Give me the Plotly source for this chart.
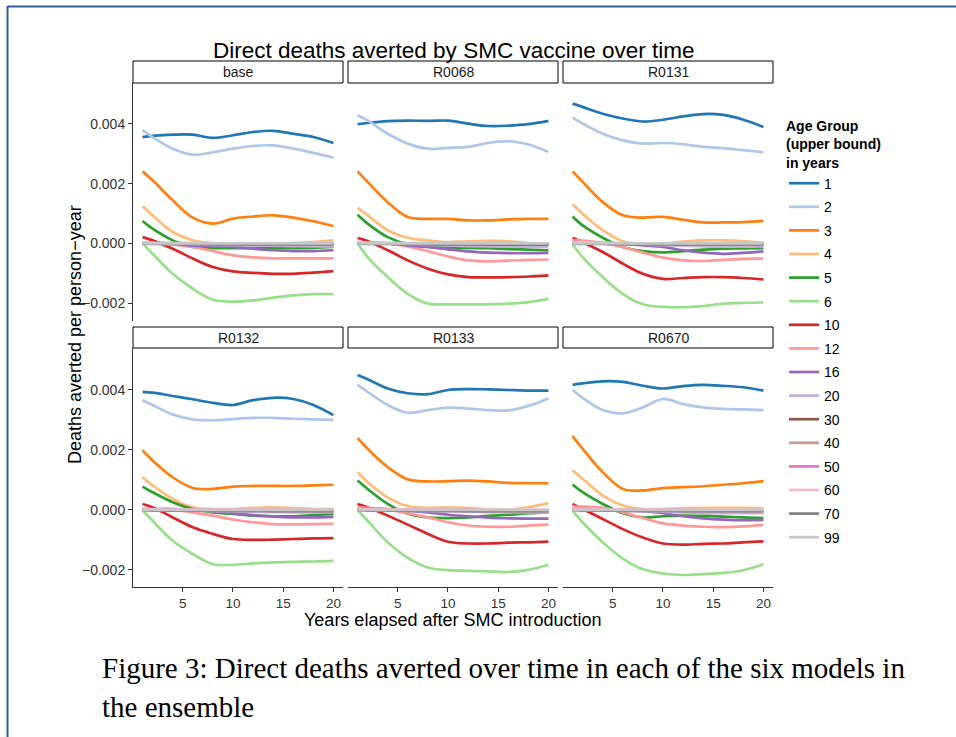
import plotly.graph_objects as go
import numpy as np

# ---------------- data ----------------
YEARS = [1, 2, 4, 6, 8, 10, 12, 14, 16, 18, 20]
AGE_GROUPS = ["1", "2", "3", "4", "5", "6", "10", "12", "16", "20",
              "30", "40", "50", "60", "70", "99"]
COLORS = ["#1f77b4", "#aec7e8", "#ff7f0e", "#ffbb78", "#2ca02c", "#98df8a",
          "#d62728", "#ff9896", "#9467bd", "#c5b0d5", "#8c564b", "#c49c94",
          "#e377c2", "#f7b6d2", "#7f7f7f", "#c7c7c7"]
MODELS = ["base", "R0068", "R0131", "R0132", "R0133", "R0670"]
Y_TICKS = [-0.002, 0.0, 0.002, 0.004]
X_TICKS = [5, 10, 15, 20]

# deaths averted per person-year, in units of 0.001 (one row per age group)
BASE = [
    [3.56, 3.60, 3.64, 3.64, 3.53, 3.62, 3.73, 3.77, 3.67, 3.56, 3.36],
    [3.79, 3.56, 3.17, 2.97, 3.05, 3.17, 3.26, 3.28, 3.17, 3.03, 2.87],
    [2.41, 2.11, 1.44, 0.86, 0.66, 0.83, 0.90, 0.94, 0.86, 0.74, 0.58],
    [1.24, 0.94, 0.38, 0.10, 0.01, -0.01, -0.01, 0.00, 0.01, 0.04, 0.10],
    [0.75, 0.49, 0.10, -0.12, -0.16, -0.16, -0.16, -0.17, -0.16, -0.15, -0.12],
    [0.00, -0.35, -1.02, -1.52, -1.89, -1.95, -1.91, -1.82, -1.74, -1.70, -1.70],
    [0.21, 0.10, -0.18, -0.51, -0.79, -0.94, -0.99, -1.02, -1.02, -0.98, -0.93],
    [0.00, 0.00, -0.04, -0.12, -0.26, -0.40, -0.47, -0.50, -0.50, -0.50, -0.50],
    [0.01, 0.01, 0.00, -0.08, -0.10, -0.12, -0.18, -0.23, -0.26, -0.26, -0.23],
    [0.00, 0.00, -0.01, -0.03, -0.05, -0.06, -0.07, -0.08, -0.09, -0.10, -0.10],
    [0.02, 0.01, 0.00, -0.01, -0.02, -0.02, -0.03, -0.03, -0.03, -0.03, -0.03],
    [0.01, 0.01, 0.00, 0.00, -0.01, -0.01, -0.01, -0.02, -0.02, -0.02, -0.02],
    [0.01, 0.01, 0.01, 0.00, 0.00, 0.00, 0.00, -0.01, -0.01, -0.01, -0.01],
    [0.03, 0.02, 0.01, 0.01, 0.00, 0.00, 0.00, 0.00, 0.00, 0.00, 0.00],
    [-0.01, -0.02, -0.02, -0.03, -0.03, -0.03, -0.03, -0.03, -0.03, -0.03, -0.03],
    [0.00, 0.00, 0.00, 0.00, 0.00, 0.00, 0.00, 0.00, 0.00, 0.00, 0.00],
]
R0068 = [
    [3.99, 4.03, 4.09, 4.11, 4.10, 4.11, 4.01, 3.93, 3.94, 3.99, 4.10],
    [4.29, 4.12, 3.67, 3.34, 3.17, 3.20, 3.23, 3.36, 3.42, 3.31, 3.06],
    [2.41, 2.06, 1.38, 0.88, 0.82, 0.82, 0.77, 0.77, 0.80, 0.82, 0.82],
    [1.19, 0.94, 0.44, 0.19, 0.10, 0.04, 0.07, 0.08, 0.07, 0.01, 0.00],
    [0.96, 0.66, 0.21, -0.03, -0.12, -0.15, -0.15, -0.16, -0.19, -0.21, -0.23],
    [0.00, -0.46, -1.13, -1.69, -2.02, -2.04, -2.04, -2.04, -2.02, -1.97, -1.86],
    [0.18, 0.08, -0.23, -0.57, -0.85, -1.04, -1.13, -1.14, -1.13, -1.11, -1.07],
    [0.04, 0.03, 0.00, -0.10, -0.26, -0.44, -0.57, -0.60, -0.58, -0.55, -0.54],
    [0.01, 0.01, 0.00, -0.07, -0.12, -0.20, -0.27, -0.31, -0.33, -0.33, -0.32],
    [0.01, 0.00, -0.01, -0.03, -0.05, -0.07, -0.09, -0.10, -0.11, -0.12, -0.12],
    [0.02, 0.01, 0.00, -0.01, -0.02, -0.03, -0.03, -0.04, -0.04, -0.04, -0.04],
    [0.01, 0.01, 0.00, 0.00, -0.01, -0.01, -0.02, -0.02, -0.02, -0.02, -0.02],
    [0.01, 0.01, 0.01, 0.00, 0.00, 0.00, -0.01, -0.01, -0.01, -0.01, -0.01],
    [0.03, 0.02, 0.01, 0.01, 0.01, 0.00, 0.00, 0.00, 0.00, 0.00, 0.00],
    [-0.01, -0.02, -0.02, -0.03, -0.03, -0.03, -0.03, -0.03, -0.03, -0.03, -0.03],
    [0.00, 0.00, 0.00, 0.00, 0.00, 0.00, 0.00, 0.00, 0.00, 0.00, 0.00],
]
R0131 = [
    [4.68, 4.57, 4.34, 4.18, 4.08, 4.14, 4.25, 4.33, 4.30, 4.14, 3.90],
    [4.21, 4.01, 3.67, 3.45, 3.34, 3.36, 3.32, 3.23, 3.19, 3.12, 3.05],
    [2.41, 2.06, 1.38, 0.94, 0.86, 0.89, 0.79, 0.70, 0.70, 0.71, 0.75],
    [1.31, 0.99, 0.44, 0.07, -0.03, -0.01, 0.06, 0.10, 0.10, 0.07, 0.02],
    [0.90, 0.60, 0.19, -0.12, -0.26, -0.30, -0.26, -0.21, -0.18, -0.17, -0.16],
    [-0.03, -0.46, -1.13, -1.69, -2.04, -2.13, -2.14, -2.10, -2.02, -1.99, -1.98],
    [0.18, 0.04, -0.29, -0.68, -1.02, -1.19, -1.16, -1.13, -1.13, -1.16, -1.21],
    [0.10, 0.09, 0.01, -0.12, -0.31, -0.48, -0.57, -0.59, -0.55, -0.52, -0.50],
    [0.04, 0.03, 0.01, -0.02, -0.07, -0.12, -0.23, -0.31, -0.35, -0.32, -0.27],
    [0.02, 0.01, 0.00, -0.02, -0.04, -0.06, -0.08, -0.10, -0.11, -0.11, -0.10],
    [0.02, 0.01, 0.00, -0.01, -0.02, -0.02, -0.03, -0.03, -0.03, -0.03, -0.03],
    [0.01, 0.01, 0.00, 0.00, -0.01, -0.01, -0.01, -0.02, -0.02, -0.02, -0.02],
    [0.02, 0.01, 0.01, 0.00, 0.00, 0.00, 0.00, -0.01, -0.01, -0.01, -0.01],
    [0.04, 0.03, 0.02, 0.01, 0.00, 0.00, 0.00, 0.00, 0.00, 0.00, 0.00],
    [-0.01, -0.02, -0.02, -0.03, -0.03, -0.03, -0.03, -0.03, -0.03, -0.03, -0.03],
    [0.00, 0.00, 0.00, 0.00, 0.00, 0.00, 0.00, 0.00, 0.00, 0.00, 0.00],
]
R0132 = [
    [3.94, 3.91, 3.80, 3.69, 3.57, 3.50, 3.66, 3.74, 3.70, 3.50, 3.16],
    [3.66, 3.50, 3.18, 3.02, 2.99, 3.03, 3.07, 3.07, 3.04, 3.02, 3.00],
    [1.99, 1.65, 1.09, 0.73, 0.70, 0.78, 0.80, 0.80, 0.80, 0.82, 0.84],
    [1.09, 0.82, 0.37, 0.09, 0.03, 0.03, 0.07, 0.09, 0.06, 0.03, 0.03],
    [0.78, 0.59, 0.26, 0.03, -0.08, -0.13, -0.19, -0.21, -0.21, -0.17, -0.13],
    [-0.02, -0.36, -1.03, -1.47, -1.81, -1.83, -1.78, -1.75, -1.73, -1.72, -1.70],
    [0.20, 0.09, -0.25, -0.58, -0.80, -0.97, -1.00, -0.99, -0.97, -0.95, -0.94],
    [0.03, 0.03, 0.00, -0.08, -0.19, -0.32, -0.41, -0.47, -0.48, -0.47, -0.46],
    [0.03, 0.03, 0.03, 0.00, -0.04, -0.11, -0.17, -0.22, -0.25, -0.25, -0.23],
    [0.01, 0.01, 0.00, -0.02, -0.04, -0.05, -0.06, -0.07, -0.08, -0.08, -0.08],
    [0.02, 0.01, 0.00, -0.01, -0.01, -0.02, -0.02, -0.03, -0.03, -0.03, -0.03],
    [0.01, 0.01, 0.00, 0.00, -0.01, -0.01, -0.01, -0.01, -0.02, -0.02, -0.02],
    [0.01, 0.01, 0.01, 0.00, 0.00, 0.00, 0.00, 0.00, -0.01, -0.01, -0.01],
    [0.03, 0.02, 0.01, 0.01, 0.00, 0.00, 0.00, 0.00, 0.00, 0.00, 0.00],
    [-0.01, -0.02, -0.02, -0.02, -0.03, -0.03, -0.03, -0.03, -0.03, -0.03, -0.03],
    [0.00, 0.00, 0.00, 0.00, 0.00, 0.00, 0.00, 0.00, 0.00, 0.00, 0.00],
]
R0133 = [
    [4.50, 4.36, 4.05, 3.89, 3.86, 4.00, 4.03, 4.02, 4.00, 3.98, 3.98],
    [4.17, 3.94, 3.50, 3.24, 3.33, 3.41, 3.38, 3.33, 3.32, 3.47, 3.72],
    [2.40, 2.04, 1.43, 1.02, 0.95, 0.96, 0.98, 0.95, 0.90, 0.89, 0.89],
    [1.26, 0.93, 0.42, 0.13, 0.07, 0.09, 0.07, 0.01, 0.00, 0.09, 0.22],
    [0.98, 0.70, 0.20, -0.13, -0.25, -0.27, -0.25, -0.20, -0.16, -0.11, -0.08],
    [0.00, -0.36, -1.08, -1.60, -1.92, -2.01, -2.03, -2.05, -2.07, -2.00, -1.83],
    [0.20, 0.09, -0.19, -0.49, -0.80, -1.06, -1.12, -1.12, -1.09, -1.08, -1.06],
    [0.09, 0.07, 0.01, -0.11, -0.25, -0.41, -0.52, -0.56, -0.56, -0.52, -0.49],
    [0.03, 0.03, 0.03, -0.02, -0.08, -0.16, -0.21, -0.26, -0.28, -0.29, -0.29],
    [0.01, 0.01, 0.00, -0.02, -0.04, -0.05, -0.06, -0.07, -0.08, -0.08, -0.08],
    [0.02, 0.01, 0.00, -0.01, -0.02, -0.02, -0.03, -0.03, -0.03, -0.03, -0.03],
    [0.01, 0.01, 0.00, 0.00, -0.01, -0.01, -0.01, -0.02, -0.02, -0.02, -0.02],
    [0.01, 0.01, 0.01, 0.00, 0.00, 0.00, 0.00, -0.01, -0.01, -0.01, -0.01],
    [0.03, 0.02, 0.01, 0.01, 0.00, 0.00, 0.00, 0.00, 0.00, 0.00, 0.00],
    [-0.01, -0.02, -0.02, -0.03, -0.03, -0.03, -0.03, -0.03, -0.03, -0.03, -0.03],
    [0.00, 0.00, 0.00, 0.00, 0.00, 0.00, 0.00, 0.00, 0.00, 0.00, 0.00],
]
R0670 = [
    [4.17, 4.22, 4.29, 4.27, 4.14, 4.05, 4.13, 4.17, 4.14, 4.09, 3.98],
    [4.00, 3.74, 3.33, 3.22, 3.42, 3.70, 3.53, 3.42, 3.37, 3.35, 3.33],
    [2.46, 2.04, 1.26, 0.70, 0.65, 0.73, 0.76, 0.79, 0.84, 0.89, 0.96],
    [1.32, 1.04, 0.48, 0.15, 0.03, 0.03, 0.06, 0.07, 0.07, 0.07, 0.06],
    [0.85, 0.59, 0.20, -0.11, -0.25, -0.21, -0.19, -0.20, -0.22, -0.25, -0.27],
    [-0.02, -0.41, -1.08, -1.62, -1.98, -2.12, -2.17, -2.14, -2.10, -2.01, -1.81],
    [0.20, 0.03, -0.30, -0.64, -0.92, -1.12, -1.16, -1.13, -1.12, -1.08, -1.05],
    [0.11, 0.11, 0.07, -0.08, -0.27, -0.45, -0.52, -0.56, -0.57, -0.55, -0.50],
    [0.03, 0.03, 0.01, -0.02, -0.04, -0.11, -0.21, -0.28, -0.32, -0.34, -0.33],
    [0.02, 0.01, 0.00, -0.02, -0.04, -0.06, -0.08, -0.10, -0.11, -0.11, -0.11],
    [0.02, 0.01, 0.00, -0.01, -0.02, -0.02, -0.03, -0.03, -0.03, -0.03, -0.03],
    [0.01, 0.01, 0.00, 0.00, -0.01, -0.01, -0.01, -0.02, -0.02, -0.02, -0.02],
    [0.01, 0.01, 0.01, 0.00, 0.00, 0.00, 0.00, -0.01, -0.01, -0.01, -0.01],
    [0.04, 0.03, 0.02, 0.01, 0.00, 0.00, 0.00, 0.00, 0.00, 0.00, 0.00],
    [-0.01, -0.02, -0.02, -0.03, -0.03, -0.03, -0.03, -0.03, -0.03, -0.03, -0.03],
    [0.00, 0.00, 0.00, 0.00, 0.00, 0.00, 0.00, 0.00, 0.00, 0.00, 0.00],
]
PANELS = [BASE, R0068, R0131, R0132, R0133, R0670]

TITLE = "Direct deaths averted by SMC vaccine over time"
X_TITLE = "Years elapsed after SMC introduction"
Y_TITLE = "Deaths averted per person\u2212year"
LEGEND_TITLE = "<b>Age Group<br>(upper bound)<br>in years</b>"
CAPTION_1 = "Figure 3: Direct deaths averted over time in each of the six models in"
CAPTION_2 = "the ensemble"

# ---------------- layout geometry (pixels) ----------------
W, H = 956, 737
FONT = "Liberation Sans, Arial, Helvetica, sans-serif"
SERIF = "Liberation Serif, Times New Roman, serif"
COLS = [(133, 343), (348, 558), (563, 773)]
ROWS = [(83, 321), (348, 587)]
STRIPS = [(61, 83), (327, 348)]
YRANGES = [[-0.0026, 0.00537], [-0.00257, 0.0054]]


def px(x):
    return x / W


def py(y):
    return 1 - y / H


fig = go.Figure()

for a, (age, color) in enumerate(zip(AGE_GROUPS, COLORS)):
    for i, panel in enumerate(PANELS):
        k = "" if i == 0 else str(i + 1)
        fig.add_trace(go.Scatter(
            x=YEARS,
            y=np.array(panel[a]) * 1e-3,
            mode="lines",
            line=dict(color=color, width=2.7, shape="spline", smoothing=1.0),
            name=age,
            legendgroup=age,
            showlegend=(i == 0),
            xaxis="x" + k,
            yaxis="y" + k,
            hoverinfo="skip",
        ))

layout = dict(
    width=W, height=H,
    margin=dict(l=0, r=0, t=0, b=0),
    paper_bgcolor="white",
    plot_bgcolor="white",
    font=dict(family=FONT, color="black"),
    showlegend=True,
    legend=dict(
        x=px(784), y=py(113), xanchor="left", yanchor="top",
        title=dict(text=LEGEND_TITLE, font=dict(size=14, family=FONT)),
        font=dict(size=14, family=FONT, color="black"),
        tracegroupgap=2.4,
        bgcolor="rgba(0,0,0,0)",
        itemclick=False,
    ),
)

shapes = []
annotations = []
for i, model in enumerate(MODELS):
    r, c = divmod(i, 3)
    k = "" if i == 0 else str(i + 1)
    x0, x1 = COLS[c]
    y0, y1 = ROWS[r]
    bottom = (r == 1)
    left = (c == 0)
    layout["xaxis" + k] = dict(
        domain=[px(x0), px(x1)], range=[0.05, 20.95], anchor="y" + k,
        showgrid=False, zeroline=False,
        showline=bottom, linecolor="#333333", linewidth=1,
        ticks="outside" if bottom else "", ticklen=4, tickcolor="#333333",
        tickvals=X_TICKS, showticklabels=bottom,
        tickfont=dict(size=13.5, color="#333333", family=FONT),
    )
    layout["yaxis" + k] = dict(
        domain=[py(y1), py(y0)], range=YRANGES[r], anchor="x" + k,
        showgrid=False, zeroline=False,
        showline=left, linecolor="#333333", linewidth=1,
        ticks="outside" if left else "", ticklen=4, tickcolor="#333333",
        tickvals=Y_TICKS, tickformat=".3f", showticklabels=left,
        tickfont=dict(size=14, color="#333333", family=FONT),
    )
    s0, s1 = STRIPS[r]
    shapes.append(dict(type="rect", xref="paper", yref="paper",
                       x0=px(x0), x1=px(x1), y0=py(s1), y1=py(s0),
                       line=dict(color="black", width=1), fillcolor="white"))
    annotations.append(dict(text=model, xref="paper", yref="paper",
                            x=px((x0 + x1) / 2), y=py((s0 + s1) / 2),
                            xanchor="center", yanchor="middle", showarrow=False,
                            font=dict(size=14, family=FONT, color="#1a1a1a")))

# page border
shapes.append(dict(type="line", xref="paper", yref="paper",
                   x0=px(7.5), x1=px(7.5), y0=0, y1=py(6),
                   line=dict(color="#2f5f9e", width=2)))
shapes.append(dict(type="line", xref="paper", yref="paper",
                   x0=px(7.5), x1=1, y0=py(6.5), y1=py(6.5),
                   line=dict(color="#2f5f9e", width=2)))

annotations += [
    dict(text=TITLE, xref="paper", yref="paper", x=px(453), y=py(50),
         xanchor="center", yanchor="middle", showarrow=False,
         font=dict(size=22.5, family=FONT, color="black")),
    dict(text=X_TITLE, xref="paper", yref="paper", x=px(453), y=py(620),
         xanchor="center", yanchor="middle", showarrow=False,
         font=dict(size=18, family=FONT, color="black")),
    dict(text=Y_TITLE, xref="paper", yref="paper", x=px(75), y=py(335),
         xanchor="center", yanchor="middle", showarrow=False, textangle=-90,
         font=dict(size=18, family=FONT, color="black")),
    dict(text=CAPTION_1, xref="paper", yref="paper", x=px(100), y=py(668),
         xanchor="left", yanchor="middle", showarrow=False,
         font=dict(size=29, family=SERIF, color="black")),
    dict(text=CAPTION_2, xref="paper", yref="paper", x=px(100), y=py(707),
         xanchor="left", yanchor="middle", showarrow=False,
         font=dict(size=29, family=SERIF, color="black")),
]

layout["shapes"] = shapes
layout["annotations"] = annotations
fig.update_layout(**layout)

fig.write_html(
    "out.html",
    config={"displayModeBar": False},
    post_script="document.body.style.margin='0';document.body.style.overflow='hidden';",
)
